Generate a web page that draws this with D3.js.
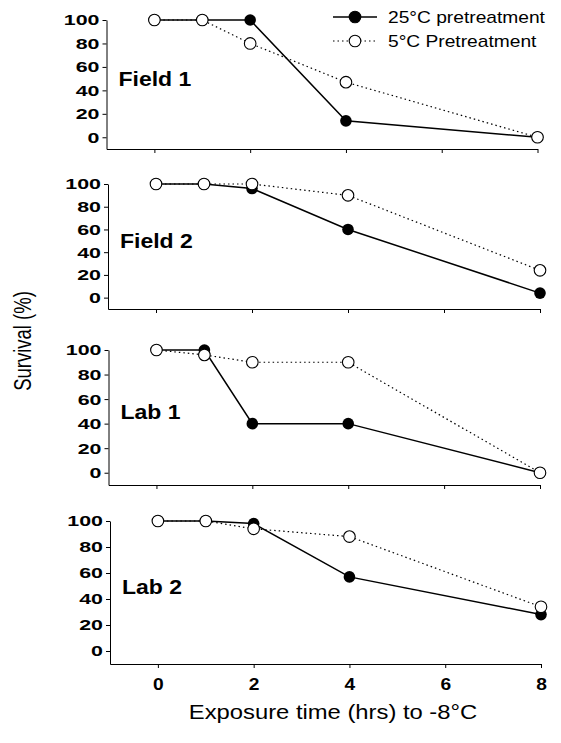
<!DOCTYPE html>
<html>
<head>
<meta charset="utf-8">
<script src="https://cdn.jsdelivr.net/npm/d3@7"></script>
<style>
  body { margin: 0; background: #fff; }
  svg { display: block; font-family: "Liberation Sans", Arial, sans-serif; }
</style>
</head>
<body>
<svg id="chart" width="561" height="743"></svg>
<script>
// exposure times (hrs at -8 C)
const times = [0, 1, 2, 4, 8]
const panelNames = ["Field 1", "Field 2", "Lab 1", "Lab 2"]
// survival (%) after 25 C pretreatment, one row per panel
const warm25 = [
    [100, 100, 100, 14, 0],
    [100, 100, 96, 60, 4],
    [100, 100, 40, 40, 0],
    [100, 100, 98, 57, 28]
]
// survival (%) after 5 C pretreatment
const cold5 = [
    [100, 100, 80, 47, 0],
    [100, 100, 100, 90, 24],
    [100, 96, 90, 90, 0],
    [100, 100, 94, 88, 34]
]
const seriesNames = ["25°C pretreatment", "5°C Pretreatment"]
const xTicks = [0, 2, 4, 6, 8]
const yTicks = [0, 20, 40, 60, 80, 100]

// pixel boxes of the four stacked panels (scan is slightly skewed)
const boxes = [
    { x0: 106.5, x1: 537.5, top: 20, bottom: 149 },
    { x0: 108, x1: 540, top: 184, bottom: 309 },
    { x0: 108.5, x1: 540, top: 350, bottom: 485 },
    { x0: 110, x1: 541, top: 521, bottom: 664 }
]

const stretch = 1.15 // text in the reference is a bit wide
const markerR = 5.8

const svg = d3.select("#chart")

function stretchedText(sel, x, y, txt, sx = stretch) {
    return sel.append("text")
        .attr("transform", `translate(${x},${y}) scale(${sx},1)`)
        .text(txt)
}

panelNames.forEach((name, i) => {
    const b = boxes[i]
    const x = d3.scaleLinear().domain([-1, 8]).range([b.x0, b.x1])
    const y = d3.scaleLinear().domain([-10, 100]).range([b.bottom, b.top])
    const g = svg.append("g")

    const yAxis = g.append("g")
        .attr("transform", `translate(${b.x0},0)`)
        .call(d3.axisLeft(y).tickValues(yTicks).tickSize(4).tickSizeOuter(0))
    yAxis.selectAll("text")
        .attr("x", null)
        .attr("transform", `translate(-7,0) scale(1.38,1)`)
        .attr("font-size", 15.5)
        .attr("font-weight", "bold")
        .attr("font-family", "Liberation Sans, Arial, sans-serif")
        .attr("fill", "#000")

    const xAxis = g.append("g")
        .attr("transform", `translate(0,${b.bottom})`)
        .call(d3.axisBottom(x).tickValues(xTicks).tickSize(4).tickSizeOuter(0)
            .tickFormat(i === panelNames.length - 1 ? d3.format("d") : () => ""))
    xAxis.selectAll("text")
        .attr("y", null)
        .attr("dy", null)
        .attr("transform", `translate(0,26) scale(1.2,1)`)
        .attr("font-size", 16)
        .attr("font-weight", "bold")
        .attr("font-family", "Liberation Sans, Arial, sans-serif")
        .attr("fill", "#000")

    g.selectAll(".domain, .tick line").attr("stroke", "#000").attr("stroke-width", 1)

    const line = d3.line().x((d, j) => x(times[j])).y(d => y(d))

    g.append("path").datum(warm25[i])
        .attr("d", line).attr("fill", "none")
        .attr("stroke", "#000").attr("stroke-width", 1.5)
    g.append("path").datum(cold5[i])
        .attr("d", line).attr("fill", "none")
        .attr("stroke", "#000").attr("stroke-width", 1.2)
        .attr("stroke-dasharray", "1.5,3")

    g.selectAll(".warm").data(warm25[i]).join("circle")
        .attr("class", "warm")
        .attr("cx", (d, j) => x(times[j])).attr("cy", d => y(d))
        .attr("r", markerR).attr("fill", "#000")
    g.selectAll(".cold").data(cold5[i]).join("circle")
        .attr("class", "cold")
        .attr("cx", (d, j) => x(times[j])).attr("cy", d => y(d))
        .attr("r", markerR).attr("fill", "#fff")
        .attr("stroke", "#000").attr("stroke-width", 1.1)

    stretchedText(g, b.x0 + 12, y(44), name)
        .attr("font-size", 20)
        .attr("font-weight", "bold")
})

// legend
const legend = svg.append("g")
seriesNames.forEach((name, k) => {
    const ly = 17 + k * 24
    legend.append("line")
        .attr("x1", 333).attr("x2", 377).attr("y1", ly).attr("y2", ly)
        .attr("stroke", "#000")
        .attr("stroke-width", k === 0 ? 1.5 : 1.2)
        .attr("stroke-dasharray", k === 0 ? null : "1.5,3")
    legend.append("circle")
        .attr("cx", 355).attr("cy", ly).attr("r", markerR)
        .attr("fill", k === 0 ? "#000" : "#fff")
        .attr("stroke", "#000").attr("stroke-width", 1.1)
    stretchedText(legend, 388, ly + 6, name, 1.2).attr("font-size", 16)
})

// axis titles
svg.append("text")
    .attr("transform", `translate(31,341) rotate(-90) scale(1,1.3)`)
    .attr("text-anchor", "middle")
    .attr("font-size", 18.5)
    .text("Survival (%)")

stretchedText(svg, 333, 719, "Exposure time (hrs) to -8°C", 1.19)
    .attr("text-anchor", "middle")
    .attr("font-size", 20)
</script>
</body>
</html>
